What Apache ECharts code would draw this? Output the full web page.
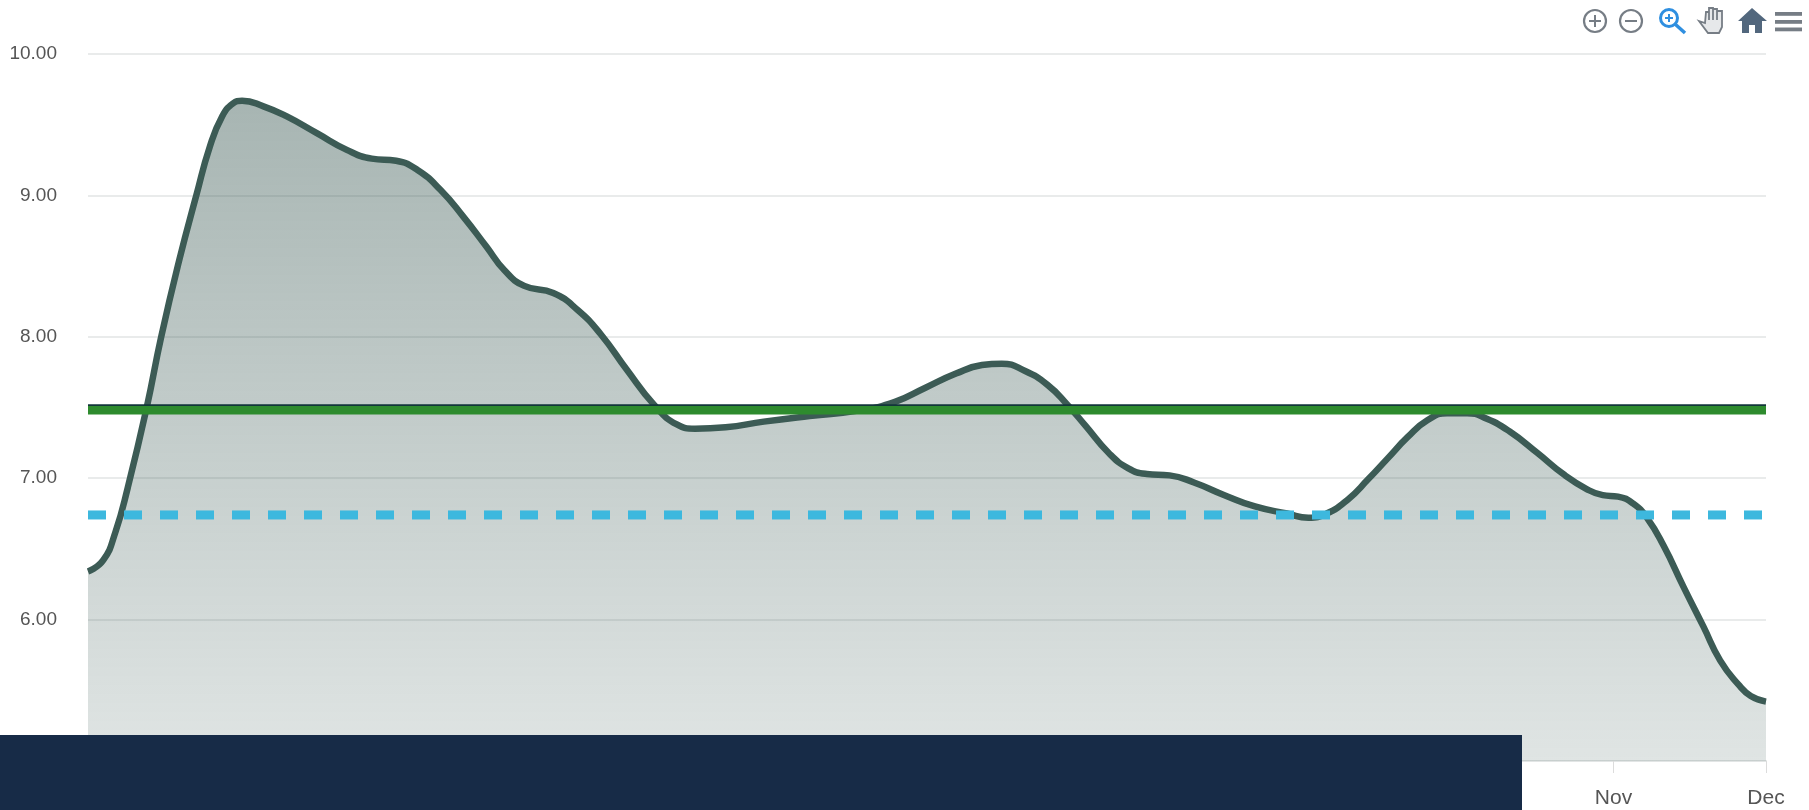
<!DOCTYPE html>
<html><head><meta charset="utf-8">
<style>html,body{margin:0;padding:0;background:#fff}#c{width:1809px;height:810px}</style>
<script src="https://cdn.jsdelivr.net/npm/echarts@6/dist/echarts.min.js"></script>
</head><body><div id="c"></div>
<script>
const categories = ['Jan','Feb','Mar','Apr','May','Jun','Jul','Aug','Sep','Oct','Nov','Dec'];
const tickLabelValues = [5,6,7,8,9,10];
// Curve: position in months since Jan, and value there.
const curveMonths = [0,.10,.18,.26,.385,.48,.60,.71,.80,.88,.95,1.01,1.15,1.30,1.50,1.70,1.86,2.02,2.16,2.31,2.46,2.61,2.73,2.86,3.05,3.21,3.36,3.53,3.71,3.86,3.98,4.18,4.43,4.73,5.06,5.29,5.49,5.69,5.86,5.99,6.14,6.29,6.42,6.54,6.69,6.82,6.94,7.09,7.25,7.45,7.65,7.86,8.00,8.12,8.26,8.39,8.52,8.65,8.78,8.91,9.04,9.17,9.32,9.50,9.67,9.83,9.93,10.03,10.13,10.22,10.33,10.46,10.59,10.70,10.82,10.90,11];
const curveValues = [6.34,6.42,6.62,6.93,7.5,8.0,8.55,9.0,9.35,9.56,9.65,9.67,9.63,9.56,9.44,9.32,9.26,9.245,9.18,9.04,8.85,8.64,8.47,8.36,8.31,8.19,8.02,7.77,7.52,7.38,7.35,7.36,7.40,7.44,7.48,7.54,7.64,7.74,7.80,7.81,7.76,7.66,7.52,7.37,7.18,7.07,7.03,7.02,6.97,6.88,6.80,6.75,6.72,6.75,6.85,6.99,7.14,7.29,7.41,7.46,7.46,7.42,7.33,7.18,7.03,6.92,6.88,6.87,6.82,6.72,6.52,6.23,5.95,5.71,5.54,5.46,5.42];
const darkTargetValue = 7.51;
const greenTargetValue = 7.48;
const dashedTargetValue = 6.74;
const lineSpan = [0, 11];

const chart = echarts.init(document.getElementById('c'), null, {renderer:'canvas'});
const FONT = '"Liberation Sans", Arial, sans-serif';
const flat = (name, value, color, width, z, type) => ({
  name, type:'line', data: lineSpan.map(m=>[m,value]), symbol:'none', z, silent:true,
  lineStyle:{color, width, type: type || 'solid', cap:'butt'}
});
const grey='#767d85', blue='#2f8fe0', slate='#52677d';
chart.setOption({
  animation:false,
  grid:{left:88,right:43,top:54,bottom:49,containLabel:false},
  xAxis:{type:'value',min:0,max:categories.length-1,interval:1,
    axisLine:{show:true,onZero:false,lineStyle:{color:'#e2e5e5',width:2}},
    axisTick:{show:true,length:12,lineStyle:{color:'#dcdcdc',width:1}},
    axisLabel:{color:'#555',fontFamily:FONT,fontSize:21,margin:27,showMinLabel:true,showMaxLabel:true,formatter:v=>categories[v]},
    splitLine:{show:false}},
  yAxis:{type:'value',min:tickLabelValues[0],max:tickLabelValues[tickLabelValues.length-1],interval:1,
    axisLine:{show:false},axisTick:{show:false},
    axisLabel:{color:'#555',fontFamily:FONT,fontSize:19,margin:31,padding:[0,0,9,0],
      formatter:v=>v.toFixed(2)},
    splitLine:{show:true,lineStyle:{color:'#e2e4e4',width:1.5}}},
  series:[
    {name:'Value',type:'line',data:curveMonths.map((m,i)=>[m,curveValues[i]]),smooth:0.5,symbol:'none',z:3,silent:true,
      lineStyle:{color:'#3c5b55',width:6.5},
      areaStyle:{opacity:1,origin:'start',color:new echarts.graphic.LinearGradient(0,0,0,1,[
        {offset:0,color:'rgba(60,91,85,0.45)'},{offset:1,color:'rgba(60,91,85,0.16)'}])}},
    flat('Dark target',darkTargetValue,'#12363a',3.5,4),
    flat('Green target',greenTargetValue,'#2e8b2e',8.5,5),
    flat('Dashed target',dashedTargetValue,'#3db8de',9,4,[18,18])
  ],
  graphic:[
    {type:'rect',z:100,shape:{x:0,y:735,width:1522,height:75},style:{fill:'#172b47'}},
    {type:'circle',z:100,shape:{cx:1595,cy:21,r:11},style:{fill:'none',stroke:grey,lineWidth:2.2}},
    {type:'line',z:100,shape:{x1:1589,y1:21,x2:1601,y2:21},style:{stroke:grey,lineWidth:2}},
    {type:'line',z:100,shape:{x1:1595,y1:15,x2:1595,y2:27},style:{stroke:grey,lineWidth:2}},
    {type:'circle',z:100,shape:{cx:1631,cy:21,r:11},style:{fill:'none',stroke:grey,lineWidth:2.2}},
    {type:'line',z:100,shape:{x1:1625,y1:21,x2:1637,y2:21},style:{stroke:grey,lineWidth:2}},
    {type:'circle',z:100,shape:{cx:1669,cy:18,r:8.5},style:{fill:'none',stroke:blue,lineWidth:3}},
    {type:'line',z:100,shape:{x1:1675,y1:24,x2:1685,y2:33},style:{stroke:blue,lineWidth:3.5}},
    {type:'line',z:100,shape:{x1:1665,y1:18,x2:1673,y2:18},style:{stroke:blue,lineWidth:2}},
    {type:'line',z:100,shape:{x1:1669,y1:14,x2:1669,y2:22},style:{stroke:blue,lineWidth:2}},
    {type:'polygon',z:100,shape:{points:[[1699,21],[1705,23],[1706,12],[1709,12],[1709,20],[1709,8],[1713,8],[1713,20],[1713,9],[1717,9],[1717,20],[1717,11],[1722,11],[1722,27],[1719,33],[1708,33]]},style:{fill:'#e6e8ea',stroke:grey,lineWidth:1.8}},
    {type:'polygon',z:100,shape:{points:[[1752,8],[1767,21],[1762,21],[1762,33],[1755,33],[1755,25],[1749,25],[1749,33],[1742,33],[1742,21],[1738,21]]},style:{fill:slate}},
    {type:'rect',z:100,shape:{x:1775,y:12,width:27,height:3.8},style:{fill:grey}},
    {type:'rect',z:100,shape:{x:1775,y:20,width:27,height:3.8},style:{fill:grey}},
    {type:'rect',z:100,shape:{x:1775,y:27.5,width:27,height:3.8},style:{fill:grey}}
  ]
});
</script></body></html>
